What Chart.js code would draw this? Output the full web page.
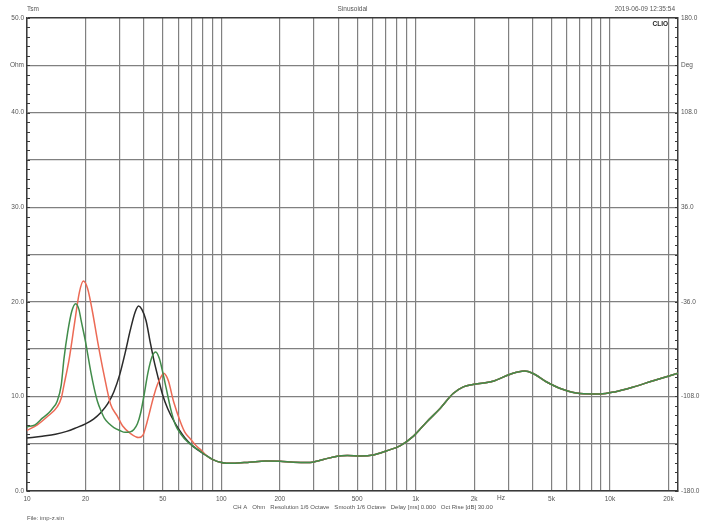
<!DOCTYPE html>
<html><head><meta charset="utf-8">
<script src="https://cdn.jsdelivr.net/npm/chart.js@4/dist/chart.umd.min.js"></script>
<style>html,body{margin:0;padding:0;background:#fff;} #wrap{width:705px;height:528px;position:relative;}</style>
</head><body><div id="wrap"><canvas id="c"></canvas></div>
<script>
// ---- data (impedance magnitude in Ohm vs frequency in Hz) ----
const freqBlack = [10,12,14,16,18,20,22,24,26,28,30,32,34,36,37.5,39,41,43,45,47,50,53,57,61,65,70,75,78];
const ohmBlack  = [5.6,5.8,6.0,6.3,6.7,7.1,7.6,8.3,9.2,10.5,12.3,14.6,17.0,18.9,19.55,19.2,18.0,15.8,13.8,12.2,10.1,8.7,7.4,6.4,5.6,4.9,4.4,4.15];

const freqRed = [10,11.3,12.7,14.3,15,15.5,16.5,17.5,18.6,19.5,20.5,21.7,23.1,24.9,26.9,29.2,31,34,37.6,39.5,41.5,43.2,45,46.8,49,50.6,52,53.5,56.9,61.6,65,69.3,74,78];
const ohmRed  = [6.4,7.0,7.85,8.9,9.8,11.2,14.0,17.5,21.0,22.2,21.4,19.0,15.8,12.3,9.2,7.9,6.9,6.1,5.65,5.9,7.3,8.7,10.1,11.2,12.1,12.45,12.2,11.6,9.4,7.3,6.2,5.5,4.8,4.4];

const freqGreen = [10,11,12,13,13.5,14.3,15,15.5,16.2,17,17.8,18.5,19,20,21.3,22.2,23.1,24,25,26.5,28,30,32,34,35.5,37,38.5,40,42,44,46,48,50,52,55,58,62,67,72,78];
const ohmGreen  = [6.8,7.0,7.7,8.3,8.7,9.5,11.2,14.0,16.8,19.0,19.8,19.2,18.0,15.8,12.6,10.8,9.4,8.5,7.7,7.1,6.7,6.4,6.2,6.25,6.5,7.1,8.3,10.1,12.6,14.2,14.7,14.0,12.5,10.9,8.6,7.0,6.0,5.2,4.7,4.2];

// shared part of all three curves above ~80 Hz
const freqCommon = [85,90,100,115,140,170,200,235,280,335,395,445,520,605,710,835,975,1140,1340,1560,1760,2000,2500,3070,3630,4000,4700,5700,7000,8900,10700,13200,16700,22400];
const ohmCommon  = [3.65,3.35,3.02,2.93,3.05,3.17,3.15,3.04,3.0,3.33,3.68,3.74,3.7,3.8,4.25,4.8,5.8,7.3,8.75,10.3,11.0,11.28,11.6,12.35,12.68,12.45,11.55,10.75,10.3,10.25,10.5,11.0,11.66,12.44];

// ---- axis ticks / labels ----
const xGridTicks = [10,20,30,40,50,60,70,80,90,100,200,300,400,500,600,700,800,900,1000,2000,3000,4000,5000,6000,7000,8000,9000,10000,20000];
const xTickLabels = {10:'10',20:'20',50:'50',100:'100',200:'200',500:'500',1000:'1k',2000:'2k',5000:'5k',10000:'10k',20000:'20k'};
const yTickLabels = {0:'0.0',10:'10.0',20:'20.0',30:'30.0',40:'40.0',45:'Ohm',50:'50.0'};
const y2TickLabels = {'-180':'-180.0','-108':'-108.0','-36':'-36.0','36':'36.0','108':'108.0','144':'Deg','180':'180.0'};

const topLeftText = 'Tsm';
const titleText = 'Sinusoidal';
const dateText = '2019-06-09 12:35:54';
const brandText = 'CLIO';
const unitText = 'Hz';
const infoText = 'CH A   Ohm   Resolution 1/6 Octave   Smooth 1/6 Octave   Delay [ms] 0.000   Oct Rise [dB] 30.00';
const fileText = 'File: imp-z.sin';

function pts(fr, vals){ return fr.map((f,i)=>({x:f,y:vals[i]})); }
const common = pts(freqCommon, ohmCommon);

const FONT = '"Liberation Sans", Arial, sans-serif';
Chart.defaults.font.family = FONT;
Chart.defaults.font.size = 6.5;
Chart.defaults.color = '#555';

const GRID = '#808080';
const FRAME = '#3a3a3a';

const decor = {
  id:'decor',
  afterDraw(chart){
    const {ctx, chartArea:a, scales} = chart;
    const ys = scales.y;
    ctx.save();
    // minor ticks on both vertical axes (inside)
    ctx.strokeStyle = FRAME; ctx.lineWidth = 1;
    for(let v=0; v<=50; v++){
      const py = Math.round(ys.getPixelForValue(v))+0.5;
      ctx.beginPath(); ctx.moveTo(a.left, py); ctx.lineTo(a.left+3, py); ctx.stroke();
      ctx.beginPath(); ctx.moveTo(a.right-3, py); ctx.lineTo(a.right, py); ctx.stroke();
    }
    ctx.fillStyle = '#555';
    ctx.font = '6.5px ' + FONT;
    ctx.textBaseline = 'middle';
    ctx.textAlign = 'left'; ctx.fillText(topLeftText, a.left, 9);
    ctx.textAlign = 'center'; ctx.fillText(titleText, (a.left+a.right)/2, 9);
    ctx.textAlign = 'right'; ctx.fillText(dateText, a.right-3, 9);
    ctx.font = 'bold 6.5px ' + FONT;
    ctx.fillStyle = '#222';
    ctx.fillText(brandText, a.right-10, a.top+6);
    ctx.font = '6.5px ' + FONT; ctx.fillStyle = '#555';
    ctx.textAlign = 'center';
    ctx.fillText(unitText, scales.x.getPixelForValue(2750), a.bottom+7);
    ctx.textAlign = 'left';
    ctx.font = '6px ' + FONT;
    ctx.fillText(infoText, 233, 507);
    ctx.fillText(fileText, a.left, 518);
    ctx.restore();
  }
};

const lineOpts = {pointRadius:0, borderWidth:1.5, fill:false, tension:0.4, cubicInterpolationMode:'monotone', yAxisID:'y'};

new Chart(document.getElementById('c'), {
  type:'line',
  data:{ datasets:[
    Object.assign({label:'black', order:3, data: pts(freqBlack, ohmBlack).concat(common), borderColor:'#2a2a2a'}, lineOpts),
    Object.assign({label:'red', order:2, data: pts(freqRed, ohmRed).concat(common), borderColor:'#ec6a55'}, lineOpts),
    Object.assign({label:'green', order:1, data: pts(freqGreen, ohmGreen).concat(common), borderColor:'#418c4a'}, lineOpts)
  ]},
  options:{
    responsive:true, maintainAspectRatio:false, animation:false,
    devicePixelRatio: 1,
    layout:{padding:{top:18,left:0,right:0,bottom:0}},
    plugins:{legend:{display:false}, tooltip:{enabled:false}, title:{display:false}},
    scales:{
      x:{type:'logarithmic', min:10, max:22400,
        afterBuildTicks:s=>{ s.ticks = xGridTicks.map(v=>({value:v})); },
        ticks:{autoSkip:false, maxRotation:0, minRotation:0, padding:4, callback:(v)=> xTickLabels[v] ?? ''},
        grid:{color:GRID, lineWidth:1.2, drawTicks:false},
        border:{color:FRAME, width:1.5},
        afterFit:s=>{ s.height = 37; }
      },
      y:{position:'left', min:0, max:50,
        ticks:{stepSize:5, padding:3, callback:(v)=> yTickLabels[v] ?? ''},
        grid:{color:(c)=> (c.tick && c.tick.value===50) ? FRAME : GRID, lineWidth:(c)=> (c.tick && c.tick.value===50) ? 1.5 : 1.2, drawTicks:false},
        border:{color:FRAME, width:1.5},
        afterFit:s=>{ s.width = 27; }
      },
      y2:{position:'right', min:-180, max:180,
        ticks:{stepSize:36, padding:3, callback:(v)=> y2TickLabels[String(Math.round(v))] ?? ''},
        grid:{color:'rgba(0,0,0,0)', drawTicks:false},
        border:{color:FRAME, width:1.5},
        afterFit:s=>{ s.width = 27; }
      }
    }
  },
  plugins:[decor]
});
</script>
</body></html>
